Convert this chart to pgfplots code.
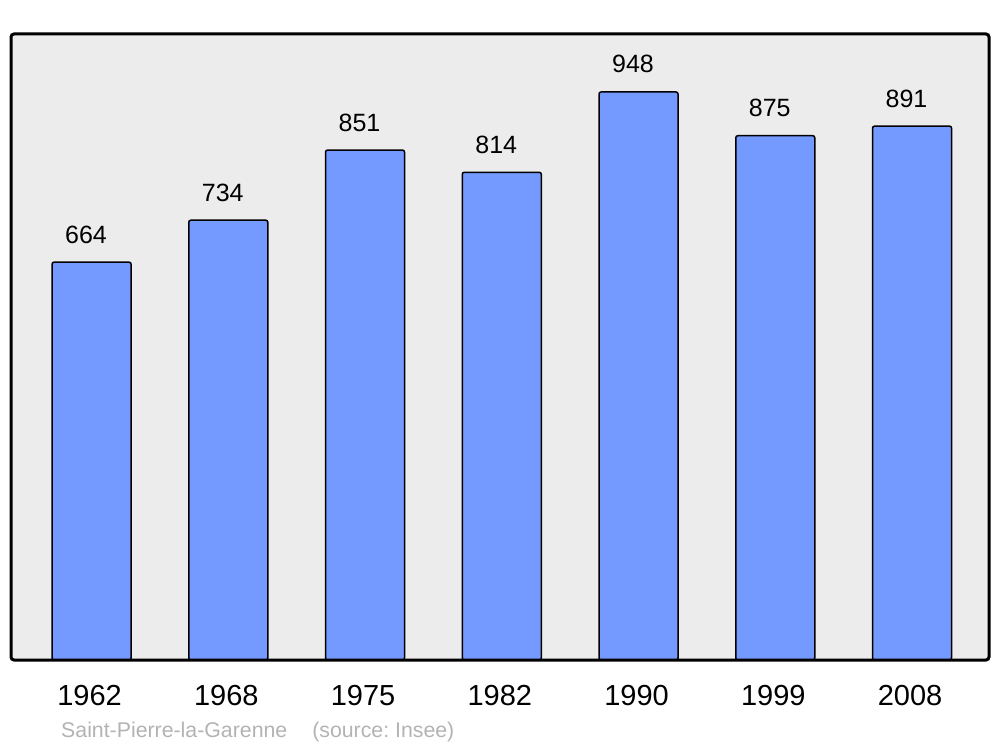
\documentclass[border=0pt]{standalone}
\usepackage{pgfplots}
\pgfplotsset{compat=1.18}
\usepackage{fontspec}
\setmainfont{Liberation Sans}
\definecolor{barblue}{HTML}{7499FF}
\definecolor{bgc}{HTML}{ECECEC}
\definecolor{capc}{HTML}{B3B3B3}
\frenchspacing
\begin{document}
\begin{tikzpicture}[x=1pt,y=1pt]
\useasboundingbox (0,0) rectangle (1000,747);
\begin{axis}[
  at={(11pt,87pt)}, anchor=south west,
  width=978pt, height=626pt, scale only axis,
  xmin=-0.589, xmax=6.563, ymin=0, ymax=1044.8,
  axis line style={draw=none},
  axis background/.style={fill=bgc},
  ytick=\empty,
  xtick={0,1,2,3,4,5,6},
  xticklabels={1962,1968,1975,1982,1990,1999,2008},
  major tick length=0pt,
  xticklabel style={anchor=base, yshift=-45pt, xshift=-2pt, font=\fontsize{29}{31}\selectfont},
  ybar, bar width=79pt,
  /pgf/number format/assume math mode=true,
  nodes near coords,
  nodes near coords style={anchor=base, inner sep=0pt, yshift=19pt, xshift=-5.5pt, font=\fontsize{25}{27}\selectfont, black},
  after end axis/.code={
    \draw[black, line width=3pt, rounded corners=3pt] (rel axis cs:0,0) rectangle (rel axis cs:1,1);
  },
]
\addplot[fill=barblue, draw=black, line width=1.5pt, rounded corners=2pt]
  coordinates {(0,664) (1,734) (2,851) (3,814) (4,948) (5,875) (6,891)};
\end{axis}
\node[anchor=base west, inner sep=0pt, text=capc, font=\fontsize{21.3}{23}\selectfont] at (61,10) {Saint-Pierre-la-Garenne\hspace{25pt}(source: Insee)};
\end{tikzpicture}
\end{document}
